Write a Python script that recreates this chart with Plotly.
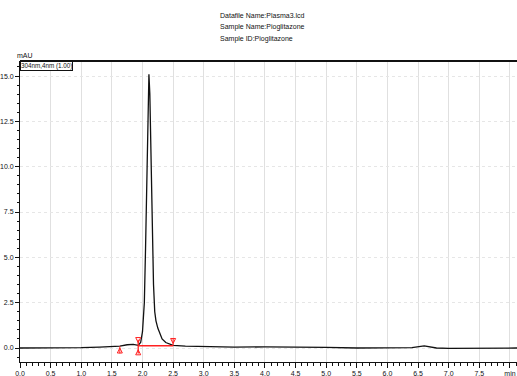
import plotly.graph_objects as go

# chromatogram trace (time in min, absorbance in mAU)
time_min = [0.0, 0.5, 1.0, 1.3, 1.5, 1.63, 1.75, 1.85, 1.93, 1.97, 2.00, 2.03, 2.05, 2.07,
            2.09, 2.105, 2.12, 2.14, 2.16, 2.18, 2.20, 2.22, 2.25, 2.28, 2.32, 2.38, 2.45,
            2.5, 2.7, 3.0, 3.5, 4.0, 4.5, 5.0, 5.5, 6.0, 6.4, 6.6, 6.7, 6.8, 7.0, 7.5, 8.12]
mau = [0.0, 0.0, 0.02, 0.05, 0.08, 0.1, 0.18, 0.2, 0.15, 0.3, 0.9, 2.5, 5.5, 9.5,
       13.5, 15.1, 14.0, 10.5, 6.5, 3.5, 2.0, 1.5, 1.1, 0.8, 0.5, 0.3, 0.2,
       0.15, 0.1, 0.08, 0.05, 0.06, 0.07, 0.04, 0.0, 0.0, 0.02, 0.12, 0.08, 0.0, -0.02, -0.02, 0.0]

# integration baseline and peak markers
baseline_t = [1.93, 2.5]
baseline_y = [0.12, 0.12]
start_marker_t = [1.63]
double_marker_t = [1.93]
end_marker_t = [2.5]

x_tick_vals = [0.0, 0.5, 1.0, 1.5, 2.0, 2.5, 3.0, 3.5, 4.0, 4.5, 5.0, 5.5, 6.0, 6.5, 7.0, 7.5, 8.0]
x_tick_text = ["0.0", "0.5", "1.0", "1.5", "2.0", "2.5", "3.0", "3.5", "4.0", "4.5", "5.0",
               "5.5", "6.0", "6.5", "7.0", "7.5", "min"]
y_tick_vals = [0.0, 2.5, 5.0, 7.5, 10.0, 12.5, 15.0]
y_tick_text = ["0.0", "2.5", "5.0", "7.5", "10.0", "12.5", "15.0"]

title_lines = ["Datafile Name:Plasma3.lcd", "Sample Name:Pioglitazone", "Sample ID:Pioglitazone"]

FONT = "Liberation Sans Narrow, Arial Narrow, Liberation Sans, Arial, sans-serif"
RED = "#ff2020"

fig = go.Figure()
fig.add_trace(go.Scatter(x=time_min, y=mau, mode="lines",
                         line=dict(color="#111111", width=1.3), hoverinfo="skip"))
fig.add_trace(go.Scatter(x=baseline_t, y=baseline_y, mode="lines",
                         line=dict(color=RED, width=1.5), hoverinfo="skip"))
# start marker: arrow pointing up from below
fig.add_trace(go.Scatter(x=start_marker_t * 2, y=[-0.3, 0.1], mode="lines",
                         line=dict(color=RED, width=1), hoverinfo="skip"))
fig.add_trace(go.Scatter(x=start_marker_t, y=[0.0], mode="markers",
                         marker=dict(symbol="arrow-up-open", size=5, color=RED,
                                     line=dict(color=RED, width=1)), hoverinfo="skip"))
# double marker
fig.add_trace(go.Scatter(x=double_marker_t * 2, y=[-0.3, 0.45], mode="lines",
                         line=dict(color=RED, width=1.3), hoverinfo="skip"))
fig.add_trace(go.Scatter(x=double_marker_t * 2, y=[0.3, -0.1], mode="markers",
                         marker=dict(symbol=["arrow-down-open", "arrow-up-open"], size=5, color=RED,
                                     line=dict(color=RED, width=1)),
                         hoverinfo="skip"))
# end marker: arrow pointing down from above
fig.add_trace(go.Scatter(x=end_marker_t * 2, y=[0.5, 0.12], mode="lines",
                         line=dict(color=RED, width=1), hoverinfo="skip"))
fig.add_trace(go.Scatter(x=end_marker_t, y=[0.25], mode="markers",
                         marker=dict(symbol="arrow-down-open", size=5, color=RED,
                                     line=dict(color=RED, width=1)), hoverinfo="skip"))

fig.update_layout(
    width=517, height=376,
    margin=dict(l=20, r=0, t=61, b=14),
    paper_bgcolor="white", plot_bgcolor="white",
    showlegend=False,
    font=dict(family=FONT, size=7, color="#111111"),
    xaxis=dict(range=[0, 8.115], tickvals=x_tick_vals, ticktext=x_tick_text,
               showgrid=True, gridcolor="#e0e0e0", gridwidth=1,
               showline=True, linecolor="#111111", linewidth=1,
               ticks="outside", ticklen=5, tickcolor="#111111", tickwidth=1,
               minor=dict(dtick=0.1, tick0=0, ticks="outside", ticklen=3,
                          tickcolor="#111111", showgrid=False),
               zeroline=False, tickfont=dict(size=7)),
    yaxis=dict(range=[-0.772, 15.83], tickvals=y_tick_vals, ticktext=y_tick_text,
               showgrid=True, gridcolor="#e6e6e6", griddash="dot", gridwidth=1,
               showline=True, linecolor="#111111", linewidth=1,
               ticks="outside", ticklen=4, tickcolor="#111111", tickwidth=1,
               minor=dict(dtick=0.5, tick0=0, ticks="outside", ticklen=2,
                          tickcolor="#111111", showgrid=False),
               zeroline=False, tickfont=dict(size=7)),
)

# top frame line
fig.add_shape(type="line", xref="paper", yref="paper", x0=0, x1=1, y0=1, y1=1,
              line=dict(color="#111111", width=2))

for i, line in enumerate(title_lines):
    fig.add_annotation(text=line, xref="paper", yref="paper", x=0.398, y=1,
                       yshift=61 - 15 - 12 * i, xanchor="left", yanchor="middle",
                       showarrow=False, font=dict(size=7, family=FONT))

fig.add_annotation(text="mAU", xref="paper", yref="paper", x=0, y=1, yshift=6, xshift=-5,
                   xanchor="left", yanchor="middle", showarrow=False,
                   font=dict(size=7, family=FONT))
fig.add_annotation(text="304nm,4nm (1.00)", xref="paper", yref="paper", x=0, y=1,
                   xanchor="left", yanchor="top", showarrow=False,
                   bordercolor="#111111", borderwidth=1, borderpad=0, bgcolor="white",
                   font=dict(size=6.3, family=FONT))

fig.write_html("out.html")
